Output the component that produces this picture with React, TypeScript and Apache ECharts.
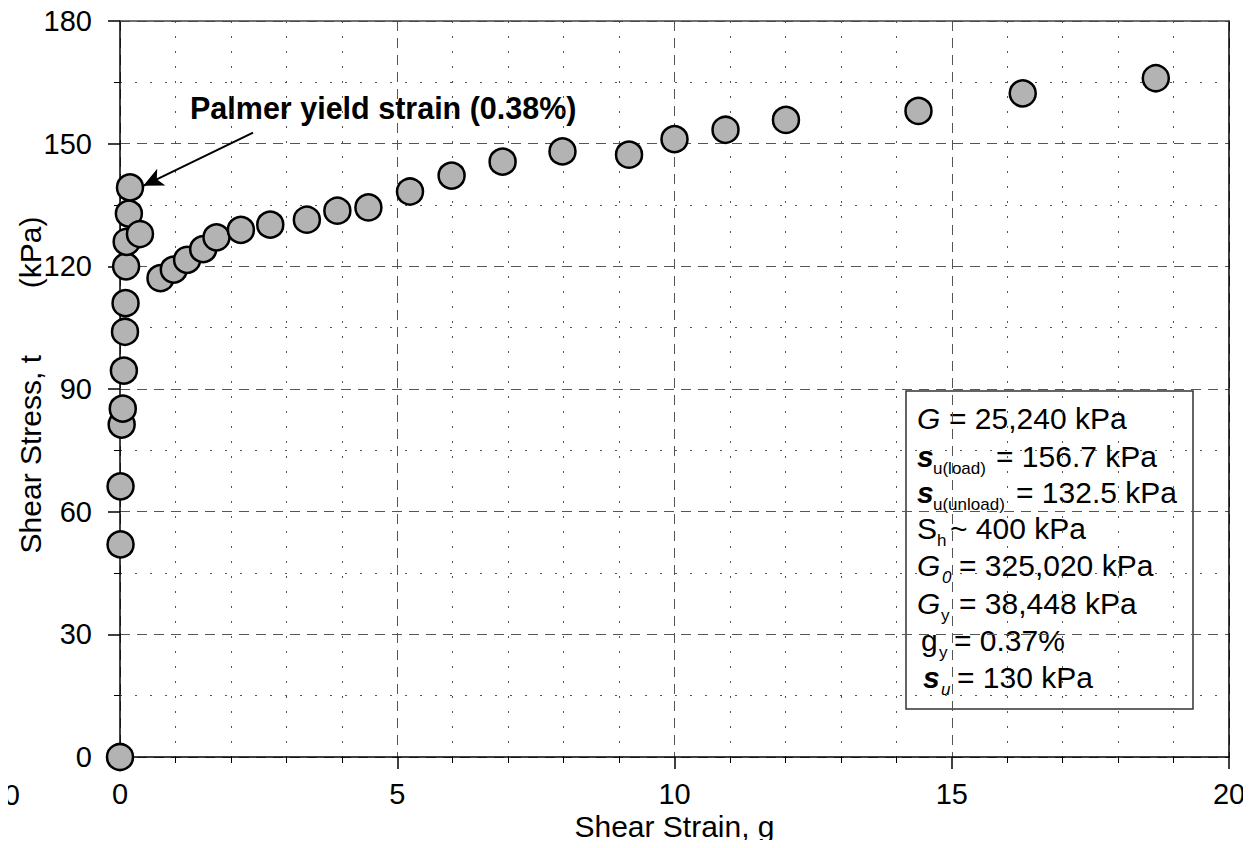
import React, { useEffect, useRef } from "react";
import * as echarts from "echarts";

// Shear strain (%) and shear stress (kPa) of each test reading, in loading order
const shearStrain = [
  0, 0.01, 0.01, 0.03, 0.05, 0.07, 0.09, 0.1, 0.11, 0.12, 0.16, 0.18,
  0.36, 0.73, 0.97, 1.21, 1.5, 1.74, 2.18, 2.71, 3.37, 3.92, 4.48,
  5.23, 5.98, 6.9, 7.98, 9.18, 10.0, 10.92, 12.01, 14.4, 16.28, 18.68,
];
const shearStress = [
  0, 52, 66.2, 81.3, 85.2, 94.5, 104.0, 111.0, 120.0, 126.0, 132.9, 139.3,
  127.9, 117.1, 119.2, 121.6, 124.2, 127.1, 128.9, 130.2, 131.4, 133.6, 134.4,
  138.3, 142.2, 145.6, 148.1, 147.3, 151.1, 153.4, 155.8, 158.0, 162.3, 166.0,
];

// Axis ranges
const xRange = [0, 20];
const xStep = 5;
const yRange = [0, 180];
const yStep = 30;

// Arrow pointing at the yield point (strain %, stress kPa)
const arrowFrom = [2.4, 152.7];
const arrowTo = [0.42, 139.7];

const FONT = "Liberation Sans, Arial, sans-serif";

export default function App() {
  const ref = useRef<HTMLDivElement>(null);

  useEffect(() => {
    if (!ref.current) return;
    const chart = echarts.init(ref.current, null, { renderer: "svg" });

    const points = shearStrain.map((x, i) => [x, shearStress[i]]);

    const major = { color: "#555", width: 1, type: [10, 7] as number[] };
    const minor = { color: "#555", width: 1, type: [2, 13] as number[] };

    const main = (x: number, y: number, text: string, extra: any = {}) => ({
      type: "text",
      x,
      y,
      style: {
        text,
        fontFamily: FONT,
        fontSize: 30,
        fill: "#000",
        verticalAlign: "middle",
        ...extra,
      },
    });
    const sub = (x: number, y: number, text: string, extra: any = {}) => ({
      type: "text",
      x,
      y,
      style: {
        text,
        fontFamily: FONT,
        fontSize: 17,
        fill: "#000",
        verticalAlign: "middle",
        ...extra,
      },
    });
    const it = { fontStyle: "italic" };
    const bi = { fontStyle: "italic", fontWeight: "bold" };

    chart.setOption({
      animation: false,
      backgroundColor: "#fff",
      grid: {
        left: 120,
        right: 22,
        top: 21,
        bottom: 91,
        containLabel: false,
        outerBoundsMode: "none",
      },
      xAxis: [
        {
          type: "value",
          min: xRange[0],
          max: xRange[1],
          interval: xStep,
          position: "bottom",
          name: "Shear Strain, g",
          nameLocation: "middle",
          nameGap: 54,
          nameMoveOverlap: false,
          nameTextStyle: { fontFamily: FONT, fontSize: 30, color: "#000" },
          axisLine: { show: true, onZero: false, lineStyle: { color: "#000", width: 1.5 } },
          axisTick: { show: true, length: 12, lineStyle: { color: "#000", width: 1.5 } },
          minorTick: { show: true, splitNumber: 5, length: 6, lineStyle: { color: "#000", width: 1 } },
          splitLine: { show: true, lineStyle: major },
          minorSplitLine: { show: true, lineStyle: minor },
          axisLabel: { fontFamily: FONT, fontSize: 29, color: "#000", margin: 22 },
        },
        {
          type: "value",
          min: xRange[0],
          max: xRange[1],
          position: "top",
          axisLine: { show: true, onZero: false, lineStyle: { color: "#444", width: 1.5 } },
          axisTick: { show: false },
          axisLabel: { show: false },
          splitLine: { show: false },
        },
      ],
      yAxis: [
        {
          type: "value",
          min: yRange[0],
          max: yRange[1],
          interval: yStep,
          position: "left",
          name: "Shear Stress, t\u00a0\u00a0\u00a0\u00a0\u00a0\u00a0\u00a0\u00a0(kPa)",
          nameLocation: "middle",
          nameGap: 75,
          nameMoveOverlap: false,
          nameTextStyle: { fontFamily: FONT, fontSize: 30, color: "#000", padding: [0, 0, 0, 8] },
          axisLine: { show: true, onZero: false, lineStyle: { color: "#000", width: 1.5 } },
          axisTick: { show: true, length: 12, lineStyle: { color: "#000", width: 1.5 } },
          minorTick: { show: true, splitNumber: 2, length: 6, lineStyle: { color: "#000", width: 1 } },
          splitLine: { show: true, lineStyle: major },
          minorSplitLine: { show: true, lineStyle: minor },
          axisLabel: { fontFamily: FONT, fontSize: 29, color: "#000", margin: 28 },
        },
        {
          type: "value",
          min: yRange[0],
          max: yRange[1],
          position: "right",
          axisLine: { show: true, onZero: false, lineStyle: { color: "#000", width: 1.5 } },
          axisTick: { show: false },
          axisLabel: { show: false },
          splitLine: { show: false },
        },
      ],
      series: [
        {
          type: "scatter",
          data: points,
          symbol: "circle",
          symbolSize: 26,
          itemStyle: { color: "#b3b3b3", borderColor: "#000", borderWidth: 2.5, opacity: 1 },
          markLine: {
            silent: true,
            symbol: ["none", "arrow"],
            symbolSize: [14, 20],
            lineStyle: { color: "#000", width: 2, type: "solid" },
            label: { show: false },
            data: [[{ coord: arrowFrom }, { coord: arrowTo }]],
          },
        },
      ],
      graphic: [
        {
          type: "text",
          x: 190,
          y: 108,
          style: {
            text: "Palmer yield strain (0.38%)",
            fontFamily: FONT,
            fontSize: 30.5,
            fontWeight: "bold",
            fill: "#000",
            verticalAlign: "middle",
          },
        },
        {
          type: "text",
          x: 20,
          y: 795,
          style: {
            text: "00",
            fontFamily: FONT,
            fontSize: 29,
            fill: "#000",
            align: "right",
            verticalAlign: "middle",
          },
        },
        {
          type: "group",
          children: [
            {
              type: "rect",
              shape: { x: 906, y: 391, width: 287, height: 318 },
              style: { fill: "#fff", stroke: "#333", lineWidth: 1.5 },
            },
            main(917, 418, "G", it),
            main(949, 418, "= 25,240 kPa"),
            main(917, 456, "s", bi),
            sub(933, 468, "u(load)"),
            main(996, 456, "= 156.7 kPa"),
            main(917, 492, "s", bi),
            sub(933, 504, "u(unload)"),
            main(1016, 492, "= 132.5 kPa"),
            main(917, 528, "S"),
            sub(937, 540, "h"),
            main(950, 528, "~ 400 kPa"),
            main(917, 565, "G", it),
            sub(942, 577, "0", it),
            main(959, 565, "= 325,020 kPa"),
            main(917, 603, "G", it),
            sub(941, 615, "y"),
            main(959, 603, "= 38,448 kPa"),
            main(921, 640, "g"),
            sub(939, 652, "y"),
            main(954, 640, "= 0.37%"),
            main(923, 677, "s", bi),
            sub(941, 689, "u", it),
            main(957, 677, "= 130 kPa"),
          ],
        },
      ],
    });

    return () => chart.dispose();
  }, []);

  return <div ref={ref} style={{ width: 1251, height: 848, margin: -8 }} />;
}
